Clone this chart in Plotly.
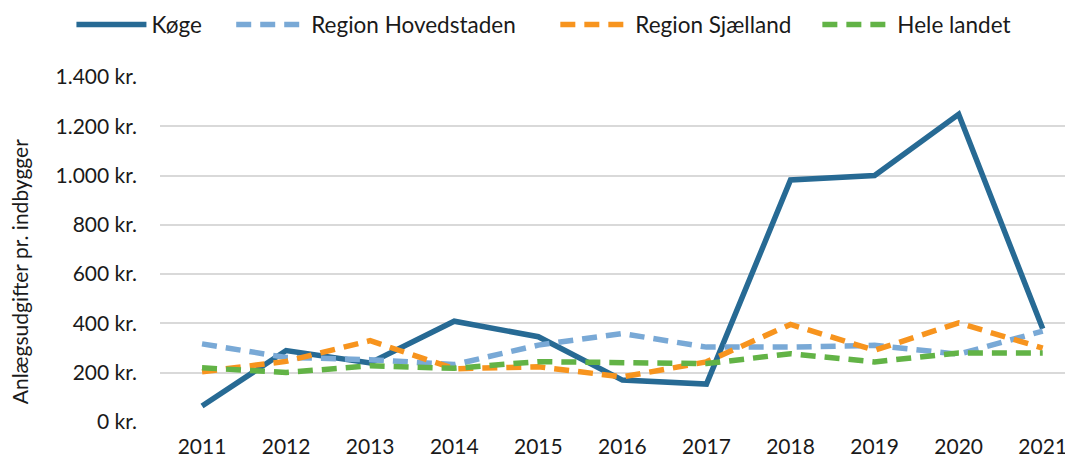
import plotly.graph_objects as go

years = ["2011", "2012", "2013", "2014", "2015", "2016", "2017", "2018", "2019", "2020", "2021"]
koege = [65, 290, 240, 409, 346, 170, 154, 982, 1000, 1249, 378]
hovedstaden = [317, 262, 253, 233, 312, 359, 304, 304, 311, 275, 369]
sjaelland = [204, 246, 330, 216, 224, 183, 244, 396, 291, 402, 300]
hele_landet = [220, 201, 228, 218, 245, 241, 237, 277, 244, 280, 280]

y_ticks = [0, 200, 400, 600, 800, 1000, 1200, 1400]
y_ticktext = ["0 kr.", "200 kr.", "400 kr.", "600 kr.", "800 kr.", "1.000 kr.", "1.200 kr.", "1.400 kr."]

FONT = "Lato, Carlito, Calibri, sans-serif"
DASH = "15px,9px"

fig = go.Figure()
fig.add_trace(go.Scatter(x=years, y=koege, mode="lines", name="Køge", legend="legend",
                         line=dict(color="#276A94", width=5.5)))
fig.add_trace(go.Scatter(x=years, y=hovedstaden, mode="lines", name="Region Hovedstaden",
                         legend="legend2", line=dict(color="#79A9D6", width=5.5, dash=DASH)))
fig.add_trace(go.Scatter(x=years, y=sjaelland, mode="lines", name="Region Sjælland",
                         legend="legend3", line=dict(color="#F7941E", width=5.5, dash=DASH)))
fig.add_trace(go.Scatter(x=years, y=hele_landet, mode="lines", name="Hele landet",
                         legend="legend4", line=dict(color="#62B346", width=5.5, dash=DASH)))


def leg(x):
    return dict(orientation="h", x=x, xanchor="left", y=0.963, yanchor="middle",
                yref="container", font=dict(size=22.5, family=FONT, color="#1a1a1a"),
                itemwidth=70, bgcolor="rgba(0,0,0,0)")


fig.update_layout(
    width=1065, height=455,
    margin=dict(l=152, r=0, t=69, b=41),
    paper_bgcolor="white", plot_bgcolor="white",
    font=dict(family=FONT, size=21, color="#1a1a1a"),
    showlegend=True,
    legend=leg(-0.097),
    legend2=leg(0.078),
    legend3=leg(0.433),
    legend4=leg(0.72),
    xaxis=dict(type="category", range=[-0.5, 10.36], showgrid=False, zeroline=False,
               showline=False, ticks="", tickfont=dict(size=21), ticklabelstandoff=10),
    yaxis=dict(range=[0, 1400], tickvals=y_ticks, ticktext=y_ticktext,
               showgrid=True, gridcolor="#D9D9D9", gridwidth=1.5, zeroline=False,
               showline=False, ticks="", tickfont=dict(size=21), ticklabelstandoff=22),
    annotations=[dict(text="Anlægsudgifter pr. indbygger", textangle=-90,
                      xref="paper", yref="paper", x=-0.153, y=0.435,
                      xanchor="center", yanchor="middle", showarrow=False,
                      font=dict(size=21, family=FONT))],
)

fig.write_html("out.html")
